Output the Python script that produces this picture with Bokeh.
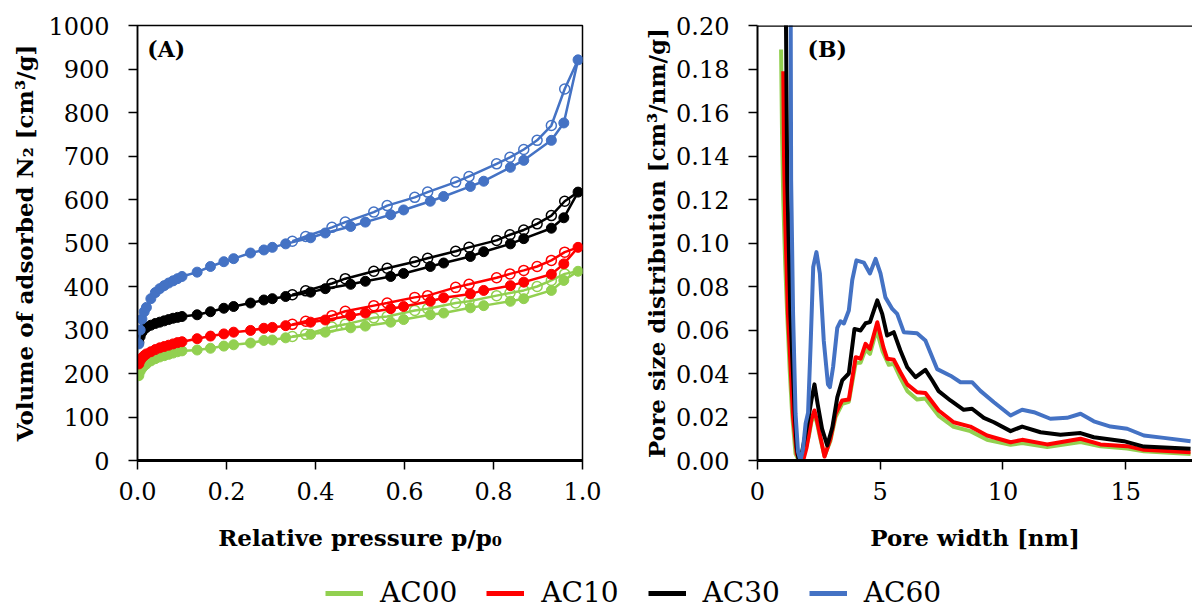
from bokeh.plotting import figure
from bokeh.layouts import column, row
from bokeh.models import Range1d, FixedTicker, PrintfTickFormatter, Label, Span, Legend, LegendItem
from bokeh.embed import file_html
from bokeh.resources import INLINE

FONT = "DejaVu Serif"
NAMES = ["AC00", "AC10", "AC30", "AC60"]
COLORS = ["#92D050", "#FF0000", "#000000", "#4472C4"]

# ---------------- (A) N2 isotherms ----------------
P_ADS = [0.003, 0.006, 0.01, 0.015, 0.02, 0.03, 0.04, 0.05, 0.06, 0.07, 0.08, 0.09, 0.10,
         0.134, 0.164, 0.194, 0.216, 0.254, 0.284, 0.303, 0.333, 0.389, 0.422, 0.479, 0.512,
         0.569, 0.598, 0.658, 0.688, 0.748, 0.778, 0.838, 0.868, 0.93, 0.958, 0.99]
ADS_AC00 = [195, 205, 212, 218, 222, 229, 234, 238, 241, 244, 247, 250, 252,
            254, 258, 263, 266, 270, 276, 277, 282, 290, 295, 305, 309,
            318, 324, 335, 339, 351, 356, 366, 372, 391, 414, 435]
ADS_AC10 = [222, 230, 236, 241, 245, 250, 255, 259, 262, 265, 268, 271, 273,
            280, 286, 291, 295, 299, 304, 306, 310, 318, 323, 333, 339,
            349, 354, 366, 374, 383, 391, 402, 410, 428, 452, 490]
ADS_AC30 = [272, 285, 295, 302, 306, 311, 315, 318, 321, 324, 327, 329, 331,
            335, 342, 350, 354, 362, 369, 372, 377, 387, 395, 405, 412,
            423, 430, 446, 454, 469, 480, 498, 510, 534, 558, 617]
ADS_AC60 = [268, 300, 325, 342, 352, 372, 386, 395, 402, 408, 413, 418, 423,
            433, 446, 457, 464, 477, 484, 490, 498, 512, 523, 538, 548,
            565, 576, 596, 607, 630, 642, 674, 690, 736, 776, 921]

P_DES = [0.99, 0.96, 0.93, 0.898, 0.868, 0.837, 0.807, 0.745, 0.715, 0.652, 0.623,
         0.561, 0.531, 0.467, 0.437, 0.378, 0.348]
DES_AC00 = [435, 429, 414, 400, 391, 385, 379, 366, 362, 349, 345, 331, 328, 313, 307, 290, 285]
DES_AC10 = [490, 479, 460, 446, 437, 429, 420, 405, 398, 379, 375, 362, 356, 343, 333, 320, 313]
DES_AC30 = [617, 596, 563, 544, 530, 519, 506, 490, 481, 465, 457, 442, 435, 418, 407, 390, 381]
DES_AC60 = [921, 854, 770, 736, 715, 697, 682, 653, 640, 617, 605, 586, 571, 548, 536, 515, 504]

# ---------------- (B) pore size distribution ----------------
W_AC00 = [0.96, 1.00, 1.05, 1.13, 1.21, 1.31, 1.41, 1.55, 1.68, 1.80, 1.95, 2.09, 2.20, 2.32,
          2.43, 2.54, 2.73, 2.97, 3.18, 3.45, 3.72, 4.0, 4.2, 4.4, 4.58, 4.85, 5.1, 5.35,
          5.55, 5.82, 6.1, 6.5, 6.84, 7.38, 7.99, 8.67, 9.35, 10.31, 10.78, 11.8, 13.16,
          13.97, 15.06, 15.74, 17.64]
PSD_AC00 = [0.189, 0.15, 0.12, 0.09, 0.067, 0.042, 0.0215, 0.003, 0.0, 0.0, 0.005, 0.011,
            0.018, 0.021, 0.017, 0.011, 0.002, 0.009, 0.020, 0.026, 0.027, 0.045, 0.045,
            0.051, 0.049, 0.060, 0.050, 0.044, 0.0445, 0.038, 0.032, 0.028, 0.0285, 0.0205,
            0.0155, 0.0135, 0.0095, 0.0072, 0.008, 0.0062, 0.0085, 0.0065, 0.0055, 0.0042, 0.0030]
W_AC10 = [1.05, 1.08, 1.13, 1.24, 1.45, 1.60, 1.72, 1.86, 2.00, 2.09, 2.20, 2.32, 2.43, 2.54,
          2.73, 2.97, 3.18, 3.45, 3.72, 4.0, 4.2, 4.4, 4.58, 4.88, 5.13, 5.28, 5.55, 5.82,
          6.1, 6.5, 6.84, 7.38, 7.99, 8.67, 9.35, 10.31, 10.78, 11.8, 13.16, 13.97, 15.06,
          15.74, 17.64]
PSD_AC10 = [0.179, 0.14, 0.11, 0.067, 0.02, 0.003, 0.0, 0.0, 0.006, 0.012, 0.019, 0.023,
            0.018, 0.012, 0.0018, 0.01, 0.0215, 0.0276, 0.028, 0.0475, 0.0468, 0.0536,
            0.0513, 0.0636, 0.052, 0.0468, 0.0463, 0.0406, 0.035, 0.0314, 0.031, 0.023,
            0.0176, 0.0156, 0.0115, 0.0084, 0.0095, 0.0074, 0.01, 0.0074, 0.0066, 0.0049, 0.0038]
W_AC30 = [1.12, 1.21, 1.34, 1.52, 1.60, 1.68, 1.80, 1.92, 2.05, 2.20, 2.32, 2.45, 2.63, 2.84,
          3.05, 3.25, 3.45, 3.72, 3.95, 4.2, 4.4, 4.58, 4.88, 5.08, 5.28, 5.55, 5.82, 6.1,
          6.44, 6.84, 7.12, 7.38, 7.86, 8.4, 8.74, 9.22, 9.63, 10.31, 10.78, 11.53, 12.34,
          13.16, 13.7, 14.92, 15.74, 17.64]
PSD_AC30 = [0.26, 0.129, 0.067, 0.0215, 0.006, 0.0, 0.003, 0.01, 0.018, 0.028, 0.035, 0.026,
            0.0146, 0.0069, 0.0153, 0.029, 0.0368, 0.040, 0.0605, 0.0598, 0.0631, 0.0636,
            0.0736, 0.0674, 0.0575, 0.059, 0.0506, 0.0429, 0.0383, 0.0417, 0.0368, 0.0319,
            0.0276, 0.0233, 0.0238, 0.0196, 0.0176, 0.0135, 0.0156, 0.013, 0.0118, 0.0126,
            0.0107, 0.0089, 0.0064, 0.0054]
W_AC60 = [1.33, 1.37, 1.45, 1.55, 1.65, 1.75, 1.85, 1.96, 2.06, 2.16, 2.27, 2.40, 2.54, 2.70,
          2.87, 2.95, 3.08, 3.25, 3.38, 3.52, 3.72, 3.86, 4.03, 4.33, 4.58, 4.81, 5.01, 5.21,
          5.49, 5.69, 5.96, 6.5, 6.84, 7.32, 7.86, 8.27, 8.74, 9.08, 9.63, 10.31, 10.78,
          11.26, 11.93, 12.61, 13.16, 13.7, 14.38, 15.06, 15.74, 16.55, 17.64]
PSD_AC60 = [0.30, 0.129, 0.067, 0.0215, 0.004, 0.0, 0.005, 0.017, 0.022, 0.052, 0.089,
            0.0958, 0.086, 0.055, 0.035, 0.0337, 0.043, 0.061, 0.064, 0.063, 0.069, 0.083,
            0.092, 0.091, 0.086, 0.0927, 0.086, 0.075, 0.0697, 0.0674, 0.059, 0.0585, 0.0552,
            0.042, 0.039, 0.036, 0.036, 0.032, 0.0268, 0.0207, 0.0233, 0.0222, 0.0192,
            0.0196, 0.0215, 0.018, 0.0156, 0.0146, 0.0115, 0.0104, 0.0089]

X_TICKS_A = [0.0, 0.2, 0.4, 0.6, 0.8, 1.0]
Y_TICKS_A = list(range(0, 1001, 100))
X_TICKS_B = [0, 5, 10, 15]
Y_TICKS_B = [0.00, 0.02, 0.04, 0.06, 0.08, 0.10, 0.12, 0.14, 0.16, 0.18, 0.20]


def style_axes(p, xlabel, ylabel, xfmt, yfmt, xticks, yticks):
    p.grid.visible = False
    p.xaxis.ticker = FixedTicker(ticks=xticks)
    p.yaxis.ticker = FixedTicker(ticks=yticks)
    p.xaxis.formatter = PrintfTickFormatter(format=xfmt)
    p.yaxis.formatter = PrintfTickFormatter(format=yfmt)
    for ax in (p.xaxis[0], p.yaxis[0]):
        ax.axis_line_color = "black"
        ax.major_tick_line_color = "black"
        ax.major_tick_line_width = 1.5
        ax.major_tick_in = 0
        ax.major_tick_out = 9
        ax.minor_tick_line_color = None
        ax.major_label_text_font = FONT
        ax.major_label_text_font_size = "24px"
        ax.major_label_text_color = "black"
        ax.axis_label_text_font = FONT
        ax.axis_label_text_font_size = "23px"
        ax.axis_label_text_font_style = "bold"
        ax.axis_label_text_color = "black"
    p.xaxis.axis_label = xlabel
    p.yaxis.axis_label = ylabel
    p.xaxis.axis_line_width = 3
    p.xaxis.major_label_standoff = 12
    p.xaxis.axis_label_standoff = 21
    p.yaxis.major_label_standoff = 19


# Panel A
pA = figure(width=628, height=565, x_range=Range1d(0, 1), y_range=Range1d(0, 1000),
            output_backend="svg", toolbar_location=None,
            min_border_left=137, min_border_right=46, min_border_top=25, min_border_bottom=105)
style_axes(pA, "Relative pressure p/p₀", "Volume of adsorbed N₂ [cm³/g]",
           "%.1f", "%d", X_TICKS_A, Y_TICKS_A)
pA.yaxis.axis_line_width = 1.5
pA.yaxis.axis_label_standoff = 7
pA.outline_line_color = "black"
pA.outline_line_width = 1.5
pA.outline_line_alpha = 1.0

ads = [ADS_AC00, ADS_AC10, ADS_AC30, ADS_AC60]
des = [DES_AC00, DES_AC10, DES_AC30, DES_AC60]
for a, d, c in zip(ads, des, COLORS):
    pA.line(P_ADS, a, line_color=c, line_width=2.5)
    pA.line(P_DES, d, line_color=c, line_width=2.5)
    pA.scatter(P_ADS, a, marker="circle", size=10, fill_color=c, line_color=c)
    pA.scatter(P_DES[1:], d[1:], marker="circle", size=10, fill_alpha=0,
               line_color=c, line_width=1.5)

pA.add_layout(Label(x=0.022, y=976, text="(A)", text_font=FONT, text_font_size="22px",
                    text_font_style="bold", text_baseline="top", text_color="black"))

# Panel B
pB = figure(width=564, height=565, x_range=Range1d(0, 17.72), y_range=Range1d(0, 0.2),
            output_backend="svg", toolbar_location=None,
            min_border_left=129, min_border_right=0, min_border_top=25, min_border_bottom=105)
style_axes(pB, "Pore width [nm]", "Pore size distribution [cm³/nm/g]",
           "%d", "%.2f", X_TICKS_B, Y_TICKS_B)
pB.yaxis.axis_line_width = 2
pB.yaxis.axis_label_standoff = 3
pB.outline_line_color = None
pB.add_layout(Span(location=0.2, dimension="width", line_color="black", line_width=2.5))

widths = [W_AC00, W_AC10, W_AC30, W_AC60]
psds = [PSD_AC00, PSD_AC10, PSD_AC30, PSD_AC60]
for w, v, c in zip(widths, psds, COLORS):
    pB.line(w, v, line_color=c, line_width=4, line_join="round")

pB.add_layout(Label(x=2.04, y=0.195, text="(B)", text_font=FONT, text_font_size="22px",
                    text_font_style="bold", text_baseline="top", text_color="black"))

# Legend strip
pL = figure(width=1192, height=44, x_range=Range1d(0, 1), y_range=Range1d(0, 1),
            output_backend="svg", toolbar_location=None,
            x_axis_location=None, y_axis_location=None, min_border=0)
pL.grid.visible = False
pL.outline_line_color = None
items = []
for n, c in zip(NAMES, COLORS):
    r = pL.line([0.0, 0.0], [float("nan"), float("nan")], line_color=c, line_width=5)
    items.append(LegendItem(label=n, renderers=[r]))
leg = Legend(items=items, orientation="horizontal", location=(325, 0), padding=0, margin=0,
             spacing=29, glyph_width=38, glyph_height=26, label_height=26, label_standoff=17,
             label_text_font=FONT, label_text_font_size="28px", label_text_color="black",
             border_line_color=None, background_fill_alpha=0)
pL.add_layout(leg)

layout = column(row(pA, pB), pL)
open("out.html", "w").write(file_html(layout, INLINE))
